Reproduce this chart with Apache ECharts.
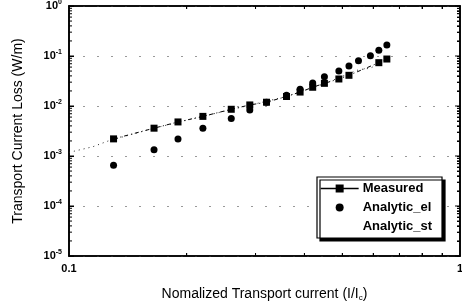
<!DOCTYPE html>
<html>
<head>
<meta charset="utf-8">
<script src="https://cdn.jsdelivr.net/npm/echarts@6/dist/echarts.min.js"></script>
<style>
  html, body { margin: 0; padding: 0; background: #fff; }
  #chart { width: 462px; height: 304px; }
</style>
</head>
<body>
<div id="chart"></div>
<script>
var xMeasured = [0.13, 0.165, 0.19, 0.22, 0.26, 0.29, 0.32, 0.36, 0.39, 0.42, 0.45, 0.49, 0.52, 0.62, 0.65];
var yMeasured = [0.0022, 0.0036, 0.0048, 0.0062, 0.0086, 0.0105, 0.0119, 0.0155, 0.019, 0.0237, 0.0284, 0.0347, 0.0411, 0.0735, 0.087];

var xEl = [0.13, 0.165, 0.19, 0.22, 0.26, 0.29, 0.32, 0.36, 0.39, 0.42, 0.45, 0.49, 0.52, 0.55, 0.59, 0.62, 0.65];
var yEl = [0.00065, 0.00134, 0.0022, 0.0036, 0.0056, 0.0083, 0.0119, 0.0165, 0.0216, 0.029, 0.0385, 0.05, 0.063, 0.08, 0.101, 0.13, 0.166];

var xSt = [0.1, 0.115, 0.126, 0.165, 0.22, 0.29, 0.36, 0.45, 0.55, 0.59, 0.65];
var ySt = [0.00118, 0.00153, 0.002, 0.0036, 0.0062, 0.0104, 0.0155, 0.028, 0.053, 0.057, 0.086];

var xLabels = [0.1, 1];
var xMinor = [0.2, 0.3, 0.4, 0.5, 0.6, 0.7, 0.8, 0.9];
var yLabels = [1e-5, 1e-4, 1e-3, 1e-2, 1e-1, 1];
var yMinorMult = [2, 3, 4, 5, 6, 7, 8, 9];

function lg(v) { return Math.log(v) / Math.LN10; }

var yTicks = yLabels.slice();
yLabels.slice(0, 5).forEach(function(d) {
  yMinorMult.forEach(function(k) { yTicks.push(d * k); });
});

function pairs(xs, ys) {
  return xs.map(function(x, i) { return [x, ys[i]]; });
}

var font = "'Liberation Sans', Arial, sans-serif";
var ink = '#000';

function supLabel(v) {
  return '{b|10}{s|' + Math.round(lg(v)) + '}';
}

// inward ticks on all four sides, placed through the axes' own scales
function renderXTick(params, api) {
  var v = api.value(0);
  var b = api.coord([v, 1e-5]);
  var t = api.coord([v, 1]);
  var st = { stroke: ink, lineWidth: 1 };
  return { type: 'group', children: [
    { type: 'line', shape: { x1: b[0], y1: b[1], x2: b[0], y2: b[1] - 3 }, style: st },
    { type: 'line', shape: { x1: t[0], y1: t[1], x2: t[0], y2: t[1] + 3 }, style: st }
  ] };
}

function renderYTick(params, api) {
  var v = api.value(1);
  var l = api.coord([0.1, v]);
  var r = api.coord([1, v]);
  var e = lg(v);
  var len = Math.abs(e - Math.round(e)) < 1e-6 ? 5 : 3;
  var st = { stroke: ink, lineWidth: 1 };
  return { type: 'group', children: [
    { type: 'line', shape: { x1: l[0], y1: l[1], x2: l[0] + len, y2: l[1] }, style: st },
    { type: 'line', shape: { x1: r[0], y1: r[1], x2: r[0] - len, y2: r[1] }, style: st }
  ] };
}

var chart = echarts.init(document.getElementById('chart'), null, { renderer: 'canvas' });

chart.setOption({
  animation: false,
  textStyle: { fontFamily: font, color: ink },
  grid: {
    left: 69, right: 2, top: 6, bottom: 48,
    outerBoundsMode: 'none', containLabel: false,
    show: true, borderColor: ink, borderWidth: 1.6, backgroundColor: 'transparent'
  },
  legend: {
    orient: 'vertical',
    left: 317, top: 177,
    padding: [4, 10, 4, 3],
    itemGap: 4,
    itemWidth: 38, itemHeight: 10,
    backgroundColor: '#fff',
    borderColor: ink, borderWidth: 1.2, borderRadius: 0,
    shadowColor: '#000', shadowOffsetX: 3, shadowOffsetY: 3, shadowBlur: 0.01,
    textStyle: { fontFamily: font, fontSize: 13, fontWeight: 'bold', color: ink, lineHeight: 15, padding: [0, 0, 0, -1] },
    data: [
      { name: 'Measured', lineStyle: { type: 'solid', width: 1.3 } },
      { name: 'Analytic_el' },
      { name: 'Analytic_st', icon: 'none', lineStyle: { opacity: 0 } }
    ]
  },
  xAxis: [{
    type: 'log', min: 0.1, max: 1, logBase: 10,
    position: 'bottom',
    name: '{t|Nomalized Transport current (I/I}{sub|c}{t|)}',
    nameLocation: 'middle', nameGap: 30,
    nameTextStyle: {
      rich: {
        t: { fontFamily: font, fontSize: 14, color: ink },
        sub: { fontFamily: font, fontSize: 8, color: ink, verticalAlign: 'bottom', padding: [8, 0, 0, 0] }
      }
    },
    axisLine: { show: true, onZero: false, lineStyle: { color: ink, width: 1.6 } },
    axisTick: { show: true, inside: true, length: 3, customValues: xMinor, lineStyle: { color: ink } },
    axisLabel: { show: true, customValues: xLabels, fontFamily: font, fontSize: 11, fontWeight: 'bold', color: ink, margin: 7,
      formatter: function(v) { return v >= 1 ? '1' : '0.1'; } },
    splitLine: { show: false }
  }, {
    type: 'log', min: 0.1, max: 1, logBase: 10,
    position: 'top',
    axisLine: { show: true, onZero: false, lineStyle: { color: ink, width: 1.6 } },
    axisTick: { show: true, inside: true, length: 3, customValues: xMinor, lineStyle: { color: ink } },
    axisLabel: { show: false },
    splitLine: { show: false }
  }],
  yAxis: [{
    type: 'log', min: 1e-5, max: 1, logBase: 10,
    position: 'left',
    name: 'Transport Current Loss (W/m)',
    nameLocation: 'middle', nameGap: 44,
    nameTextStyle: { fontFamily: font, fontSize: 14, color: ink },
    axisLine: { show: true, onZero: false, lineStyle: { color: ink, width: 1.6 } },
    axisTick: { show: true, inside: true, length: 5, customValues: yLabels, lineStyle: { color: ink } },
    axisLabel: {
      show: true, customValues: yLabels, margin: 7,
      formatter: supLabel,
      rich: {
        b: { fontFamily: font, fontSize: 11, fontWeight: 'bold', color: ink },
        s: { fontFamily: font, fontSize: 7, fontWeight: 'bold', color: ink, verticalAlign: 'top', padding: [0, 0, 7, 0] }
      }
    },
    splitLine: { show: true, lineStyle: { color: '#999', type: [2, 12], width: 1 } }
  }, {
    type: 'log', min: 1e-5, max: 1, logBase: 10,
    position: 'right',
    axisLine: { show: true, onZero: false, lineStyle: { color: ink, width: 1.6 } },
    axisTick: { show: true, inside: true, length: 3, customValues: yTicks, lineStyle: { color: ink } },
    axisLabel: { show: false },
    splitLine: { show: false }
  }],
  series: [{
    name: 'Measured',
    type: 'line',
    data: pairs(xMeasured, yMeasured),
    symbol: 'rect', symbolSize: 7,
    itemStyle: { color: ink },
    lineStyle: { color: ink, width: 1, type: [4, 3, 1, 3] }
  }, {
    name: 'Analytic_el',
    type: 'line',
    data: pairs(xEl, yEl),
    symbol: 'circle', symbolSize: 7,
    itemStyle: { color: ink },
    lineStyle: { width: 0, opacity: 0 }
  }, {
    name: 'Analytic_st',
    type: 'line',
    data: pairs(xSt, ySt),
    showSymbol: false, symbol: 'none',
    itemStyle: { color: ink },
    lineStyle: { color: '#222', width: 1, type: [1, 4] }
  }, {
    name: 'xticks',
    type: 'custom',
    silent: true, clip: false,
    renderItem: renderXTick,
    data: xMinor.map(function(v) { return [v, 1e-5]; })
  }, {
    name: 'yticks',
    type: 'custom',
    silent: true, clip: false,
    renderItem: renderYTick,
    data: yTicks.map(function(v) { return [0.1, v]; })
  }]
});
</script>
</body>
</html>
